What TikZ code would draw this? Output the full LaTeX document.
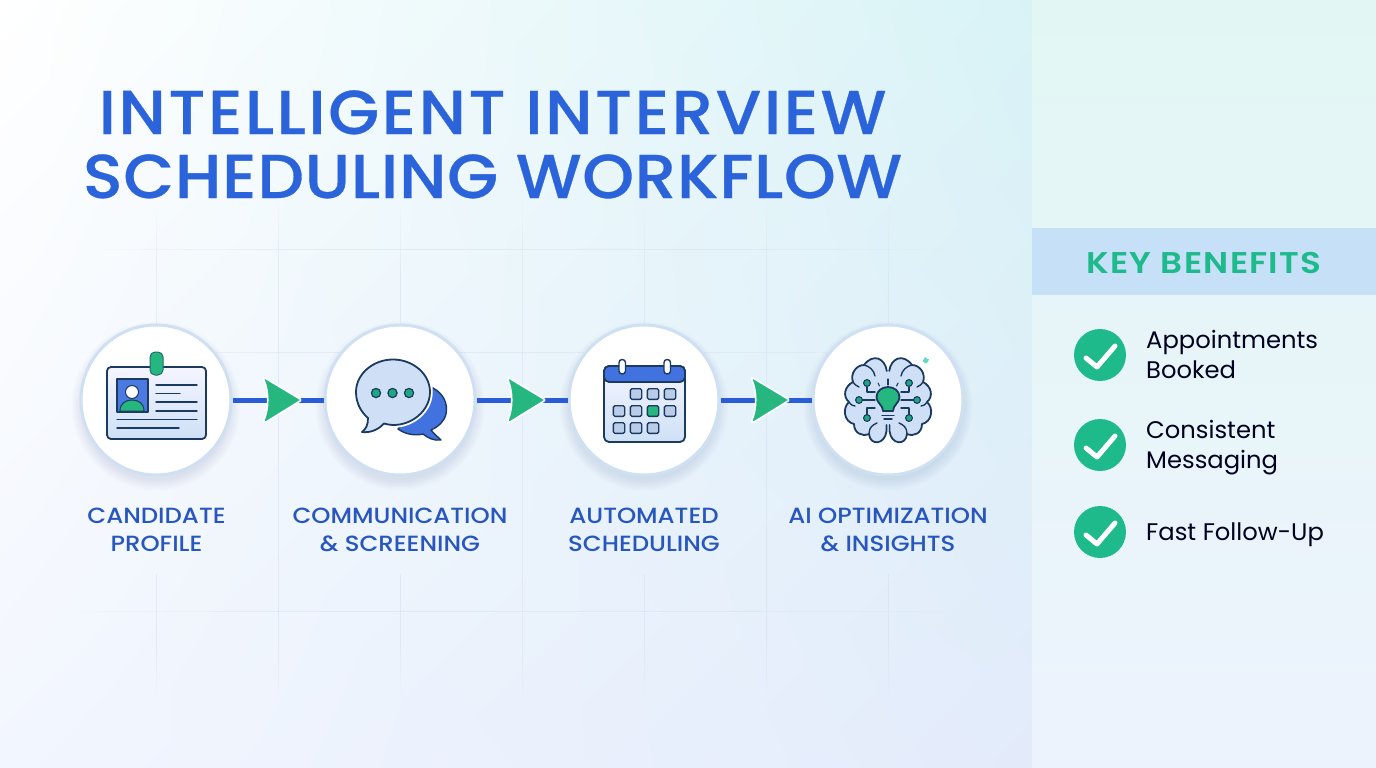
\documentclass[tikz,border=0pt]{standalone}
\usepackage{fontspec}
\usetikzlibrary{calc,shadings}
\setmainfont{Poppins}
\newfontfamily\titleA[FakeStretch=1.06,LetterSpace=4.1,FakeBold=0.5]{Poppins Medium}
\newfontfamily\titleB[FakeStretch=1.06,LetterSpace=1.3,FakeBold=0.5]{Poppins Medium}
\newfontfamily\labelfont[FakeStretch=1.11]{Poppins Medium}
\newfontfamily\headfont[FakeStretch=1.14,LetterSpace=4.2]{Poppins SemiBold}
\newfontfamily\bodyfont[FakeStretch=1.01]{Poppins}
\definecolor{ink}{HTML}{1B3A5F}
\definecolor{titleblue}{HTML}{2B63DA}
\definecolor{labelblue}{HTML}{2756BE}
\definecolor{flowblue}{HTML}{2B5CD8}
\definecolor{green1}{HTML}{25B77F}
\definecolor{teal1}{HTML}{1FBA8C}
\definecolor{ringc}{HTML}{CFE0F3}
\definecolor{paleblue}{HTML}{CFE0F6}
\definecolor{midblue}{HTML}{4272E0}
\definecolor{cellc}{HTML}{B9CDE9}
\definecolor{gridc}{HTML}{D3DFF1}
\definecolor{bgUR}{HTML}{D8F3F6}
\definecolor{bgLL}{HTML}{F2F6FE}
\definecolor{bgLR}{HTML}{E3EBFB}
\definecolor{panelT}{HTML}{E2F7F4}
\definecolor{panelM}{HTML}{EBF8FB}
\definecolor{panelB}{HTML}{EDF3FD}
\definecolor{band}{HTML}{C6E0F8}
\newcommand\gramp[4]{\foreach \i in {0,...,9}{%
  \pgfmathsetmacro\rop{0.5*(1-\i/10)}%
  \pgfmathsetmacro\rp{\i/10}%
  \pgfmathsetmacro\rq{(\i+1)/10}%
  \draw[gridln,opacity=\rop] ($(#1,#2)!\rp!(#3,#4)$) -- ($(#1,#2)!\rq!(#3,#4)$);}}
\tikzset{
  x=1pt,y=-1pt,
  stage/.style={circle,draw=ringc,line width=3pt,fill=white,minimum size=150pt,inner sep=0pt},
  flow/.style={draw=flowblue,line width=5pt},
  arrowtip/.style={fill=green1,draw=white,line width=1.6pt,line join=round},
  iconline/.style={draw=ink,line width=1.8pt,line cap=round,line join=round},
  thinline/.style={draw=ink,line width=1.4pt,line cap=round,line join=round},
  stagelabel/.style={font=\labelfont\fontsize{22}{27.5}\selectfont,text=labelblue,align=center,inner sep=0pt},
  benefit/.style={font=\bodyfont\fontsize{24}{29.2}\selectfont,text=black!88!blue,align=left,inner sep=0pt,anchor=base west},
  checkdisc/.style={circle,fill=teal1,minimum size=52pt,inner sep=0pt},
  checkmark/.style={draw=white,line width=5pt,line cap=round,line join=round},
  gridln/.style={draw=gridc,line width=1pt},
  gridsolid/.style={draw=gridc,line width=1pt,opacity=0.5},
  halo/.style={fill=ink,opacity=0.011},
  nodedot/.style={fill=teal1!85!ink,draw=ink,line width=1.1pt},
}
\begin{document}
\begin{tikzpicture}
\useasboundingbox (0,0) rectangle (1376,768);
% backgrounds
\shade[upper left=white,upper right=bgUR,lower left=bgLL,lower right=bgLR,shading=bilinear interpolation] (0,0) rectangle (1032,768);
\shade[top color=panelT,middle color=panelM,bottom color=panelB] (1032,0) rectangle (1376,768);
\fill[fill=band] (1032,228) rectangle (1376,295);
% grid
\foreach \gy in {249,352,611}{
  \gramp{300}{\gy}{80}{\gy}
  \gramp{720}{\gy}{970}{\gy}
  \draw[gridsolid] (300,\gy) -- (720,\gy);
}
\foreach \gx in {156,400,644,888}{
  \gramp{\gx}{280}{\gx}{205}
  \draw[gridsolid] (\gx,280) -- (\gx,330);
  \draw[gridsolid] (\gx,574) -- (\gx,640);
  \gramp{\gx}{640}{\gx}{695}
}
\foreach \gx in {278,522,766}{
  \gramp{\gx}{260}{\gx}{200}
  \draw[gridsolid] (\gx,260) -- (\gx,640);
  \gramp{\gx}{640}{\gx}{700}
}
% soft shadows
\foreach \cx in {156,400,644,888}{
  \foreach \r in {74,75.5,77,78.5,80,81.5,83,84.5}{
    \fill[halo] (\cx,406) circle (\r);
  }
}
% title
\node[text=titleblue,align=center,inner sep=0pt,anchor=base,font=\fontsize{62}{64}\selectfont] (title) at (492.5,198) {{\titleA INTELLIGENT INTERVIEW}\\{\titleB SCHEDULING WORKFLOW}};
% stages
\node[stage] (n1) at (156,400) {};
\node[stage] (n2) at (400,400) {};
\node[stage] (n3) at (644,400) {};
\node[stage] (n4) at (888,400) {};
% connectors
\draw[flow] (n1) -- (n2);
\draw[flow] (n2) -- (n3);
\draw[flow] (n3) -- (n4);
\coordinate (m1) at ($(n1)!0.5!(n2)$);
\coordinate (m2) at ($(n2)!0.5!(n3)$);
\coordinate (m3) at ($(n3)!0.5!(n4)$);
\foreach \m in {m1,m2,m3}{
  \begin{scope}[shift={(\m)}]
    \path[arrowtip] (-13,-22) .. controls (-14,-23) and (-15,-22) .. (-14,-20) .. controls (-9,-8) and (-9,8) .. (-14,20) .. controls (-15,22) and (-14,23) .. (-12,22) -- (22,1) .. controls (23,0) and (23,0) .. (22,-1) -- cycle;
  \end{scope}
}
% icon 1: badge
\path[iconline,top color=blue!4!white,bottom color=paleblue,rounded corners=4pt] (107,367) rectangle (206,439);
\path[iconline,fill=midblue!95!white] (117,379) rectangle (148,412);
\fill[fill=green1,draw=ink,line width=1pt] (120,411) .. controls (120,403) and (126,400) .. (132,400) .. controls (138,400) and (144,403) .. (144,411) -- cycle;
\draw[fill=white,draw=ink,line width=1pt] (132,392) circle (6.5);
\path[fill=green1,draw=ink!60!green1,line width=1pt,rounded corners=5pt] (150,352) rectangle (163,375);
\draw[thinline] (156,385) -- (197,385) (156,393.5) -- (180,393.5) (156,402) -- (197,402) (156,411) -- (197,411) (117,419.5) -- (197,419.5) (117,428) -- (179,428);
% icon 2: speech bubbles
\path[thinline,fill=midblue] (433,388) .. controls (444,394) and (448,404) .. (446,414) .. controls (444,422) and (438,427) .. (431,430) .. controls (434,434) and (438,437) .. (441,440) .. controls (434,441) and (428,438) .. (423,434) .. controls (414,436) and (405,434) .. (398,429) -- (420,400) -- cycle;
\path[draw=white,line width=5.5pt,line join=round] (384,423.5) .. controls (405,430) and (430,414) .. (430,392) .. controls (430,374) and (413,359.5) .. (393,359.5);
\path[iconline,fill=paleblue] (384,423.5) .. controls (405,430) and (430,414) .. (430,392) .. controls (430,374) and (413,359.5) .. (393,359.5) .. controls (373,359.5) and (356,374) .. (356,392) .. controls (356,403) and (361,412) .. (368,418) .. controls (368,425) and (366,429) .. (362,432) .. controls (370,433) and (378,430) .. (384,423.5) -- cycle;
\foreach \dx in {376,392.5,409}{
  \draw[fill=teal1!85!ink,draw=ink,line width=1.2pt] (\dx,393) circle (4.6);
}
% icon 3: calendar
\path[iconline,top color=blue!4!white,bottom color=paleblue,rounded corners=5pt] (604,366) rectangle (685,442);
\path[iconline,fill=midblue,rounded corners=5pt] (604,382) -- (604,366) -- (685,366) -- (685,382) -- cycle;
\path[thinline,fill=white,rounded corners=3pt] (619,359.5) rectangle (625.5,374);
\path[thinline,fill=white,rounded corners=3pt] (664,359.5) rectangle (670.5,374);
\foreach \cxx/\cyy/\cf in {636/394/cellc,653/394/cellc,670/394/cellc,619/411/cellc,636/411/cellc,653/411/green1,670/411/cellc,619/428/cellc,636/428/cellc,653/428/cellc}{
  \path[thinline,fill=\cf,rounded corners=1.5pt] (\cxx-5.7,\cyy-5.3) rectangle (\cxx+5.7,\cyy+5.3);
}
% icon 4: brain
\begin{scope}[shift={(888,400)}]
\foreach \sx in {1,-1}{
\begin{scope}[xscale=\sx]
  \fill[fill=paleblue] (-0.5,-29) -- (1.2,-29) .. controls (3,-42) and (15,-47) .. (24,-35) .. controls (32,-35) and (38,-26) .. (35,-18) .. controls (43,-14) and (46,-4) .. (39,2) .. controls (46,8) and (44,22) .. (34,24) .. controls (34,33) and (26,37) .. (19,34) .. controls (18,46) and (3,45) .. (1.5,31) -- (-0.5,31) -- cycle;
  \draw[iconline] (1.2,-29) .. controls (3,-42) and (15,-47) .. (24,-35) .. controls (32,-35) and (38,-26) .. (35,-18) .. controls (43,-14) and (46,-4) .. (39,2) .. controls (46,8) and (44,22) .. (34,24) .. controls (34,33) and (26,37) .. (19,34) .. controls (18,46) and (3,45) .. (1.5,31) -- (1.5,25);
  \draw[thinline] (24,-35) .. controls (19,-34) and (14,-30) .. (13,-24);
  \draw[thinline] (35,-18) .. controls (33,-15) and (31,-14) .. (29,-13);
  \draw[thinline] (39,2) .. controls (37,5) and (35,6) .. (33,6);
  \draw[thinline] (19,34) .. controls (19,28) and (16,25) .. (11,23);
  \draw[thinline] (21,-17) -- (21,-8) -- (13,-8);
  \draw[thinline] (29,0) -- (13,0);
  \draw[thinline] (21,18) -- (21,8) -- (13,8);
  \draw[nodedot] (21,-17) circle (3.4);
  \draw[nodedot] (29,0) circle (3.4);
  \draw[nodedot] (21,18) circle (3.4);
  \draw[thinline,line width=1.1pt] (10,-17) -- (8.5,-14);
\end{scope}
}
\draw[thinline,line width=1.1pt] (0,-21) -- (0,-15);
\path[iconline,fill=green1] (-5,11) .. controls (-5,5) and (-11.5,3) .. (-11.5,-3) .. controls (-11.5,-9) and (-6,-13) .. (0,-13) .. controls (6,-13) and (11.5,-9) .. (11.5,-3) .. controls (11.5,3) and (5,5) .. (5,11) -- cycle;
\draw[thinline] (-6,15.5) -- (6,15.5) (-4,19) -- (4,19);
\fill[fill=green1!70!cyan!70!white] (37,-43) -- (39,-41) -- (41,-41) -- (40,-38.5) -- (38.5,-36.5) -- (36,-37.5) -- (34.5,-39) -- (36,-41) -- cycle;
\end{scope}
% stage labels
\node[stagelabel] (l1) at (156.5,530) {CANDIDATE\\PROFILE};
\node[stagelabel] (l2) at (400,530) {COMMUNICATION\\\& SCREENING};
\node[stagelabel] (l3) at (644,530) {AUTOMATED\\SCHEDULING};
\node[stagelabel] (l4) at (888,530) {AI OPTIMIZATION\\\& INSIGHTS};
% benefits
\node[font=\headfont\fontsize{30}{32}\selectfont,text=teal1,inner sep=0pt,anchor=base] (kb) at (1204,273) {KEY BENEFITS};
\node[checkdisc] (c1) at (1100,355) {};
\node[checkdisc] (c2) at (1100,445) {};
\node[checkdisc] (c3) at (1100,532) {};
\foreach \c in {c1,c2,c3}{
  \begin{scope}[shift={(\c)}]
    \path[checkmark] (-14,3) -- (-3,12) -- (15,-9);
  \end{scope}
}
\node[benefit] (b1) at (1146,378) {Appointments\\Booked};
\node[benefit] (b2) at (1146,468) {Consistent\\Messaging};
\node[benefit] (b3) at (1146,540) {Fast Follow-Up};
\end{tikzpicture}
\end{document}
